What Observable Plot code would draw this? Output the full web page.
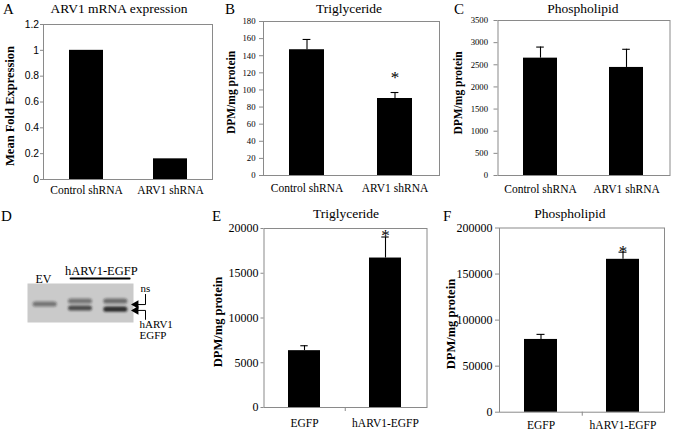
<!DOCTYPE html>
<html><head><meta charset="utf-8">
<script src="https://cdn.jsdelivr.net/npm/d3@7"></script>
<script src="https://cdn.jsdelivr.net/npm/@observablehq/plot@0.6"></script>
<style>
html,body{margin:0;padding:0;background:#fff;}
#fig{position:relative;width:683px;height:432px;overflow:hidden;background:#fff;}
#fig svg{position:absolute;}
</style></head><body><div id="fig"></div>
<script>
// ---------------- data ----------------
const shCategories = ["Control shRNA", "ARV1 shRNA"];
const mrnaFold = [1.0, 0.16];
const tgKnockdown = [147, 90];
const tgKnockdownErr = [12, 7];
const tgKnockdownSig = [false, true];
const plKnockdown = [2650, 2440];
const plKnockdownErr = [250, 410];

const oeCategories = ["EGFP", "hARV1-EGFP"];
const tgOverexp = [6350, 16700];
const tgOverexpErr = [550, 2350];
const tgOverexpSig = [false, true];
const plOverexp = [79000, 166000];
const plOverexpErr = [5500, 7800];
const plOverexpSig = [false, true];

const ticksA = [0, 0.2, 0.4, 0.6, 0.8, 1, 1.2];
const ticksB = [0, 20, 40, 60, 80, 100, 120, 140, 160, 180];
const ticksC = [0, 500, 1000, 1500, 2000, 2500, 3000, 3500];
const ticksE = [0, 5000, 10000, 15000, 20000];
const ticksF = [0, 50000, 100000, 150000, 200000];

// western blot (panel D): lane index, relative migration, band intensity
const blotLaneLabels = ["EV", "hARV1-EGFP"];
const blotBandLabels = ["ns", "hARV1", "EGFP"];
const bandLane = [0, 1, 1, 2, 2];
const bandMigration = [0.54, 0.46, 0.64, 0.46, 0.67];
const bandIntensity = [0.5, 0.5, 0.72, 0.55, 0.9];

// ---------------- drawing ----------------
const SERIF = "'Liberation Serif','Times New Roman',serif";
const SANS = "'Liberation Sans',Arial,sans-serif";
const AXIS = "#8a8a8a";
const fig = document.getElementById("fig");

function barPanel(o) {
  const data = o.cats.map((c, i) => ({cat: c, v: o.vals[i], e: o.errs ? o.errs[i] : 0, sig: o.sig ? o.sig[i] : false}));
  const fw = o.width - o.ml - o.mr;
  const fh = o.height - o.mt - o.mb;
  const bw = fw / 2 * 0.4;
  const capInset = (bw - 8) / 2;
  const yMax = o.ticks[o.ticks.length - 1];
  const marks = [
    Plot.frame({stroke: AXIS}),
    Plot.barY(data, {x: "cat", y: "v", fill: "#000"})
  ];
  if (o.errs) {
    marks.push(Plot.ruleX(data, {x: "cat", y1: "v", y2: d => d.v + d.e, stroke: "#000", strokeWidth: 1.1}));
    marks.push(Plot.tickY(data, {x: "cat", y: d => d.v + d.e, stroke: "#000", strokeWidth: 1.1, insetLeft: capInset, insetRight: capInset}));
  }
  if (o.sig) {
    marks.push(Plot.text(data.filter(d => d.sig), {x: "cat", y: d => d.v + d.e, text: () => "*", dy: o.starDy, fontSize: 17, fontFamily: SERIF, lineAnchor: "middle"}));
  }
  if (o.midTick) {
    marks.push(Plot.ruleX([o.cats[0]], {x: d => d, dx: fw / 4, y1: 0, y2: -yMax * 4 / fh, stroke: AXIS}));
  }
  marks.push(Plot.axisY({ticks: o.ticks, tickFormat: o.fmt, tickSize: o.tickSize, tickPadding: o.tickPadding, stroke: AXIS, fill: "#000", fontSize: o.tickFont, fontFamily: o.tickFamily || SERIF, label: null}));
  marks.push(Plot.axisX({tickSize: 0, tickPadding: o.xPad, fill: "#000", fontSize: o.xFont, fontFamily: SERIF, label: null}));
  marks.push(Plot.text([o.yLabel], {frameAnchor: "left", dx: o.yLabelDx, dy: o.yLabelDy, rotate: -90, fontWeight: "bold", fontSize: o.yLabelSize, fontFamily: SERIF, lineAnchor: "middle", textAnchor: "middle"}));
  const svg = Plot.plot({
    width: o.width, height: o.height,
    marginLeft: o.ml, marginRight: o.mr, marginTop: o.mt, marginBottom: o.mb,
    x: {domain: o.cats, paddingInner: 0.6, paddingOuter: 0.3},
    y: {domain: [0, yMax]},
    style: {background: "none", color: "#000", fontFamily: SERIF, overflow: "visible"},
    marks
  });
  svg.style.left = o.left + "px";
  svg.style.top = o.top + "px";
  fig.appendChild(svg);
}

// Panel A
barPanel({cats: shCategories, vals: mrnaFold, ticks: ticksA, fmt: d => String(+d.toFixed(1)),
  left: 0, top: 0, width: 230, height: 200, ml: 43, mr: 18, mt: 24, mb: 21,
  tickSize: 3, tickPadding: 1.5, tickFont: 10.3, tickFamily: SANS, xPad: 6, xFont: 11.5,
  yLabel: "Mean Fold Expression", yLabelDx: -34, yLabelDy: 4, yLabelSize: 12.5});

// Panel B
barPanel({cats: shCategories, vals: tgKnockdown, errs: tgKnockdownErr, sig: tgKnockdownSig, starDy: -15, ticks: ticksB, fmt: d => String(d),
  left: 225, top: 0, width: 230, height: 200, ml: 38, mr: 16, mt: 21, mb: 25,
  tickSize: 4, tickPadding: 4, tickFont: 8.7, xPad: 8.5, xFont: 11.5,
  yLabel: "DPM/mg protein", yLabelDx: -32.5, yLabelDy: -6, yLabelSize: 11.5});

// Panel C
barPanel({cats: shCategories, vals: plKnockdown, errs: plKnockdownErr, ticks: ticksC, fmt: d => String(d),
  left: 450, top: 0, width: 233, height: 200, ml: 47.5, mr: 13.5, mt: 20, mb: 25,
  tickSize: 4, tickPadding: 6, tickFont: 8.7, xPad: 9, xFont: 11.5,
  yLabel: "DPM/mg protein", yLabelDx: -39.5, yLabelDy: -5, yLabelSize: 11.5});

// Panel E
barPanel({cats: oeCategories, vals: tgOverexp, errs: tgOverexpErr, sig: tgOverexpSig, starDy: -1.5, ticks: ticksE, fmt: d => String(d), midTick: true,
  left: 225, top: 200, width: 225, height: 232, ml: 38.5, mr: 23.5, mt: 28, mb: 25,
  tickSize: 3, tickPadding: 2.5, tickFont: 12, xPad: 11, xFont: 11.5,
  yLabel: "DPM/mg protein", yLabelDx: -46.5, yLabelDy: 4, yLabelSize: 12.5});

// Panel F
barPanel({cats: oeCategories, vals: plOverexp, errs: plOverexpErr, sig: plOverexpSig, starDy: -0.6, ticks: ticksF, fmt: d => String(d), midTick: true,
  left: 450, top: 200, width: 233, height: 232, ml: 49, mr: 19, mt: 27.5, mb: 20.3,
  tickSize: 4, tickPadding: 3, tickFont: 12, xPad: 8.5, xFont: 11.5,
  yLabel: "DPM/mg protein", yLabelDx: -49, yLabelDy: 4, yLabelSize: 12.5});

// Panel D: western blot
const bands = bandLane.map((l, i) => ({lane: l, pos: bandMigration[i], k: bandIntensity[i]}));
const svgD = Plot.plot({
  width: 230, height: 232, marginLeft: 27, marginRight: 97, marginTop: 83, marginBottom: 110,
  x: {domain: [0, 3], axis: null},
  y: {domain: [0, 1], reverse: true, axis: null},
  style: {background: "none", color: "#000", fontFamily: SERIF, overflow: "visible"},
  marks: [
    Plot.frame({fill: "#cacaca", stroke: "none"}),
    Plot.rect(bands, {x1: d => d.lane + 0.5 - 0.34, x2: d => d.lane + 0.5 + 0.34, y1: d => d.pos - 0.065, y2: d => d.pos + 0.065, fill: "#1e1e1e", fillOpacity: d => d.k, rx: 3}),
    Plot.text([blotLaneLabels[0]], {x: 0.45, y: -0.11, fontSize: 12, fontFamily: SERIF, lineAnchor: "middle"}),
    Plot.text([blotLaneLabels[1]], {x: 2.09, y: -0.33, fontSize: 12.5, fontFamily: SERIF, lineAnchor: "middle"}),
    Plot.line([[1.22, -0.13], [2.89, -0.13]], {stroke: "#000", strokeWidth: 2}),
    Plot.text([blotBandLabels[0]], {x: 3.2, y: 0.14, fontSize: 11, fontFamily: SERIF, textAnchor: "start", lineAnchor: "middle"}),
    Plot.line([[3.34, 0.28], [3.34, 0.54], [3.1, 0.54]], {stroke: "#000", strokeWidth: 1}),
    Plot.line([[3.1, 0.69], [3.34, 0.69], [3.34, 0.92]], {stroke: "#000", strokeWidth: 1}),
    Plot.dot([[3.07, 0.54], [3.07, 0.69]], {symbol: "triangle", r: 3.2, fill: "#000", stroke: "none", rotate: -90}),
    Plot.text([blotBandLabels[1]], {x: 3.17, y: 1.04, fontSize: 11, fontFamily: SERIF, textAnchor: "start", lineAnchor: "middle"}),
    Plot.text([blotBandLabels[2]], {x: 3.17, y: 1.32, fontSize: 11, fontFamily: SERIF, textAnchor: "start", lineAnchor: "middle"})
  ]
});
svgD.style.left = "0px";
svgD.style.top = "200px";
(function () {
  const ns = "http://www.w3.org/2000/svg";
  const defs = document.createElementNS(ns, "defs");
  const f = document.createElementNS(ns, "filter");
  f.setAttribute("id", "bandblur");
  f.setAttribute("x", "-50%"); f.setAttribute("y", "-100%");
  f.setAttribute("width", "200%"); f.setAttribute("height", "300%");
  const g = document.createElementNS(ns, "feGaussianBlur");
  g.setAttribute("stdDeviation", "1.3");
  f.appendChild(g); defs.appendChild(f); svgD.insertBefore(defs, svgD.firstChild);
  const rg = svgD.querySelector('g[aria-label="rect"]');
  if (rg) rg.setAttribute("filter", "url(#bandblur)");
})();
fig.appendChild(svgD);

// Panel letters and titles
(function () {
  const ns = "http://www.w3.org/2000/svg";
  const svg = document.createElementNS(ns, "svg");
  svg.setAttribute("width", 683); svg.setAttribute("height", 432);
  svg.style.left = "0px"; svg.style.top = "0px"; svg.style.pointerEvents = "none";
  const items = [
    ["A", 3, 13.5, 15, "start"], ["ARV1 mRNA expression", 119, 12.5, 13.5, "middle"],
    ["B", 225, 13.5, 15, "start"], ["Triglyceride", 349, 12.5, 13.5, "middle"],
    ["C", 454, 13.5, 15, "start"], ["Phospholipid", 583, 12.5, 13.5, "middle"],
    ["D", 1, 221, 15, "start"], ["E", 212, 221, 15, "start"], ["Triglyceride", 346, 218, 13.5, "middle"],
    ["F", 443, 221, 15, "start"], ["Phospholipid", 570, 218, 13.5, "middle"]
  ];
  for (const [t, x, y, s, a] of items) {
    const el = document.createElementNS(ns, "text");
    el.setAttribute("x", x); el.setAttribute("y", y);
    el.setAttribute("font-size", s); el.setAttribute("font-family", SERIF);
    el.setAttribute("text-anchor", a); el.setAttribute("fill", "#000");
    el.textContent = t;
    svg.appendChild(el);
  }
  fig.appendChild(svg);
})();
</script>
</body></html>
